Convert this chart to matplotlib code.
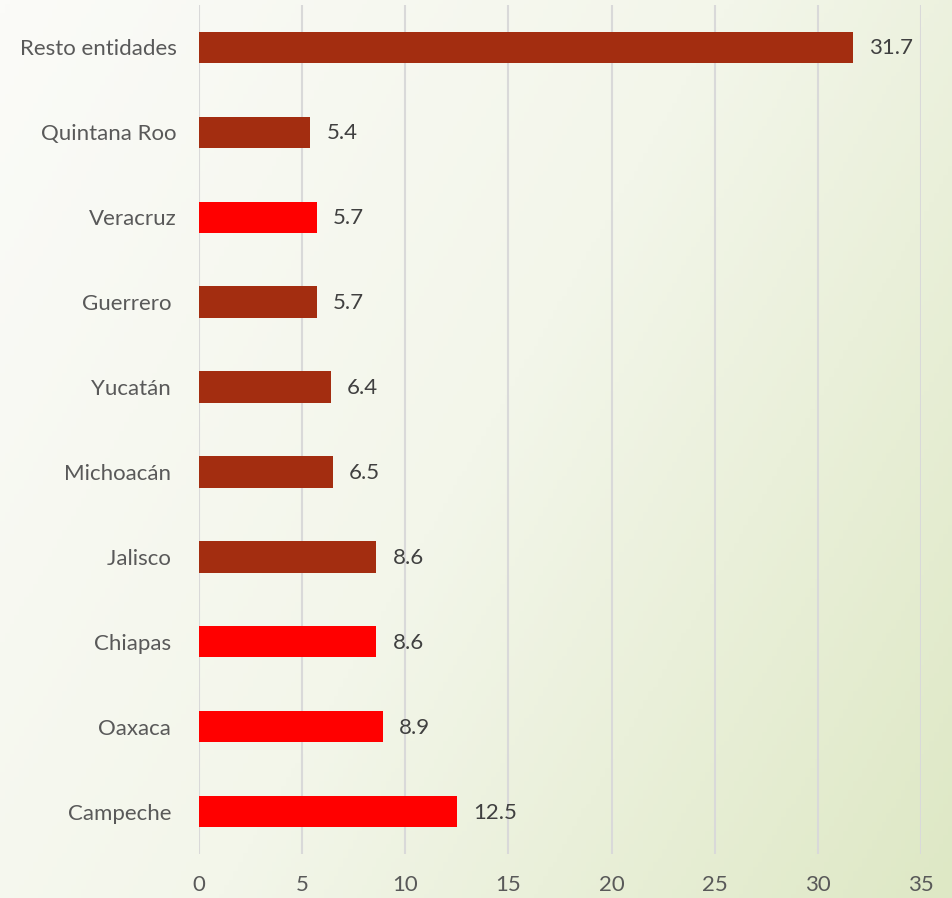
import numpy as np
import matplotlib
matplotlib.use("Agg")
import matplotlib.pyplot as plt
from matplotlib.colors import LinearSegmentedColormap

categories = ["Campeche ", "Oaxaca ", "Chiapas ", "Jalisco ", "Michoacán ",
              "Yucatán ", "Guerrero ", "Veracruz", "Quintana Roo", "Resto entidades"]
values = [12.5, 8.9, 8.6, 8.6, 6.5, 6.4, 5.7, 5.7, 5.4, 31.7]
highlight = [True, True, True, False, False, False, False, True, False, False]
xticks = [0, 5, 10, 15, 20, 25, 30, 35]

DARK = "#A32D10"
RED = "#FF0000"
TXT = "#595959"

plt.rcParams['font.family'] = ['Lato', 'DejaVu Sans']

fig = plt.figure(figsize=(9.53, 8.98), dpi=100)

# background gradient
bg = fig.add_axes([0, 0, 1, 1], zorder=-10)
nx, ny = 200, 200
xx, yy = np.meshgrid(np.linspace(0, 1, nx), np.linspace(0, 1, ny))
t = np.clip(0.65 * xx + 0.35 * yy, 0, 1)
cmap = LinearSegmentedColormap.from_list("g", ["#FBFBF8", "#F3F6EA", "#DEE8C5"])
bg.imshow(t, cmap=cmap, aspect='auto', extent=[0, 1, 0, 1], origin='upper', vmin=0, vmax=1)
bg.axis('off')

ax = fig.add_axes([199/953, 1 - 854/898, (921-199)/953, (854-5)/898])
ax.patch.set_alpha(0)
y = np.arange(len(categories))
colors = [RED if h else DARK for h in highlight]
ax.barh(y, values, height=0.37, color=colors, zorder=3)
for yi, v in zip(y, values):
    ax.annotate(f"{v:.1f}", (v, yi), xytext=(16, -1), textcoords='offset pixels',
                va='center', ha='left', fontsize=16, color="#404040")

ax.set_xlim(0, 35)
ax.set_ylim(-0.5, len(categories) - 0.5)
ax.set_xticks(xticks)
ax.set_xticklabels([str(v) for v in xticks])
ax.set_yticks(y)
ax.set_yticklabels(categories)
ax.tick_params(axis='both', length=0, labelsize=16, labelcolor=TXT)
ax.tick_params(axis='x', pad=15)
ax.tick_params(axis='y', pad=16)
ax.grid(axis='x', color="#D9D9D9", linewidth=1.5, zorder=0)
ax.set_axisbelow(True)
for s in ax.spines.values():
    s.set_visible(False)

fig.savefig("out.png", dpi=100)
